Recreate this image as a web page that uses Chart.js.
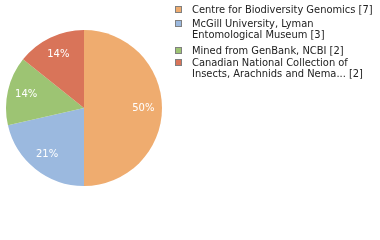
<!DOCTYPE html>
<html>
<head>
<meta charset="utf-8">
<script src="https://cdn.jsdelivr.net/npm/chart.js@4"></script>
<style>
  html, body { margin: 0; padding: 0; background: #fff; }
  #wrap { position: relative; width: 380px; height: 240px; }
</style>
</head>
<body>
<div id="wrap"><canvas id="pieChart" width="380" height="240"></canvas></div>
<script>
// data
const labels = [
    ['Centre for Biodiversity Genomics [7]'],
    ['McGill University, Lyman', 'Entomological Museum [3]'],
    ['Mined from GenBank, NCBI [2]'],
    ['Canadian National Collection of', 'Insects, Arachnids and Nema... [2]']
];
const counts = [7, 3, 2, 2];
const colors = ['#efac6f', '#9bb9df', '#9dc473', '#d97459'];

// legend layout (baseline of first line for each item)
const legendBaselines = [13, 27, 54, 66];
const lineGap = 11;

const total = counts.reduce((a, b) => a + b, 0);

// percent labels inside the slices
const sliceLabels = {
    id: 'sliceLabels',
    afterDatasetsDraw(chart) {
        const ctx = chart.ctx;
        const meta = chart.getDatasetMeta(0);
        ctx.save();
        ctx.font = '10px "DejaVu Sans"';
        ctx.fillStyle = '#fff';
        ctx.textAlign = 'center';
        ctx.textBaseline = 'middle';
        meta.data.forEach((arc, i) => {
            const p = arc.getProps(['x', 'y', 'startAngle', 'endAngle', 'outerRadius']);
            const mid = (p.startAngle + p.endAngle) / 2;
            const r = p.outerRadius * 0.76;
            const pct = Math.round(counts[i] / total * 100) + '%';
            ctx.fillText(pct, p.x + Math.cos(mid) * r, p.y + Math.sin(mid) * r);
        });
        ctx.restore();
    }
};

// legend on the right, multi-line items
const sideLegend = {
    id: 'sideLegend',
    afterDraw(chart) {
        const ctx = chart.ctx;
        ctx.save();
        ctx.font = '11px "DejaVu Sans Condensed", "DejaVu Sans"';
        ctx.textBaseline = 'alphabetic';
        labels.forEach((lines, i) => {
            const base = legendBaselines[i];
            ctx.fillStyle = colors[i];
            ctx.fillRect(175.5, base - 6.5, 6, 6);
            ctx.strokeStyle = '#808080';
            ctx.lineWidth = 1;
            ctx.strokeRect(175.5, base - 6.5, 6, 6);
            ctx.fillStyle = '#222';
            lines.forEach((t, j) => ctx.fillText(t, 192, base + j * lineGap));
        });
        ctx.restore();
    }
};

new Chart(document.getElementById('pieChart'), {
    type: 'pie',
    data: {
        labels: labels.map(l => l.join(' ')),
        datasets: [{
            data: counts,
            backgroundColor: colors,
            borderWidth: 0
        }]
    },
    options: {
        responsive: false,
        animation: false,
        layout: { padding: { left: 6, right: 218, top: 30, bottom: 54 } },
        plugins: {
            legend: { display: false },
            tooltip: { enabled: false }
        }
    },
    plugins: [sliceLabels, sideLegend]
});
</script>
</body>
</html>
